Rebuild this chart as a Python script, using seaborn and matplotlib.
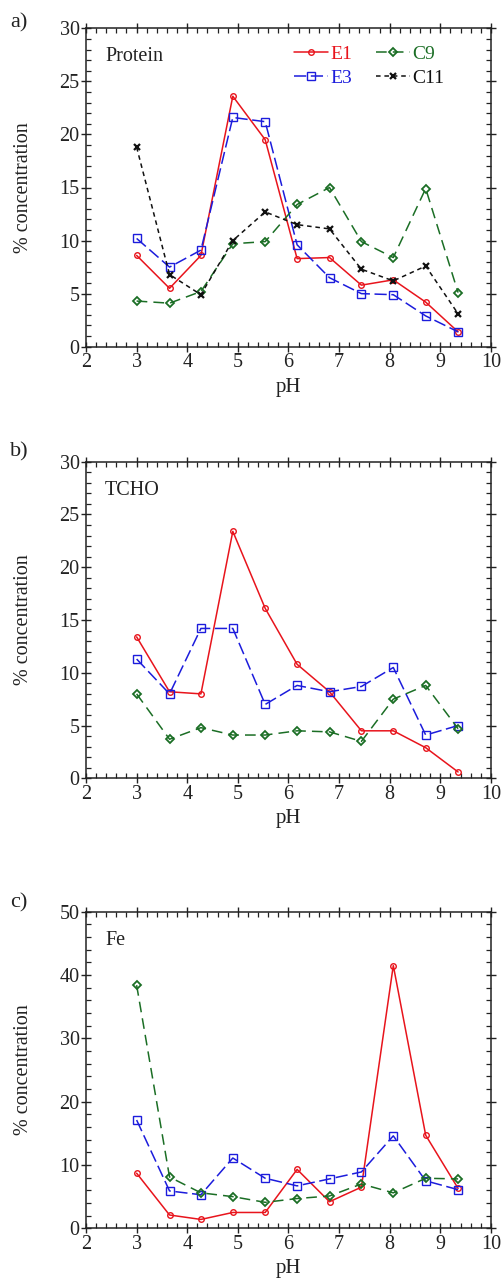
import numpy as np
import pandas as pd
import matplotlib
matplotlib.use("Agg")
import matplotlib.pyplot as plt
from matplotlib.ticker import MultipleLocator
import seaborn as sns

# pH of the collected fractions
ph = [3.0, 3.65, 4.27, 4.90, 5.54, 6.17, 6.81, 7.44, 8.07, 8.71, 9.35]

# Protein (% concentration)
protein_e1 = [8.6, 5.5, 8.6, 23.6, 19.5, 8.3, 8.4, 5.8, 6.3, 4.2, 1.4]
protein_e3 = [10.2, 7.5, 9.1, 21.6, 21.2, 9.6, 6.5, 5.0, 4.9, 2.9, 1.4]
protein_c9 = [4.3, 4.1, 5.2, 9.7, 9.9, 13.4, 15.0, 9.9, 8.4, 14.9, 5.1]
protein_c11 = [18.8, 6.8, 4.9, 10.0, 12.7, 11.5, 11.1, 7.3, 6.2, 7.6, 3.1]

# TCHO (% concentration)
tcho_e1 = [13.4, 8.2, 8.0, 23.4, 16.1, 10.8, 8.2, 4.5, 4.5, 2.9, 0.6]
tcho_e3 = [11.3, 8.0, 14.2, 14.2, 7.0, 8.8, 8.2, 8.7, 10.5, 4.1, 5.0]
tcho_c9 = [8.0, 3.7, 4.8, 4.1, 4.1, 4.5, 4.4, 3.5, 7.5, 8.8, 4.7]

# Fe (% concentration)
fe_e1 = [8.7, 2.1, 1.4, 2.5, 2.5, 9.3, 4.2, 6.5, 41.5, 14.7, 6.3]
fe_e3 = [17.1, 5.9, 5.3, 11.1, 7.9, 6.7, 7.8, 8.9, 14.6, 7.5, 6.1]
fe_c9 = [38.4, 8.1, 5.6, 5.0, 4.1, 4.7, 5.1, 7.0, 5.6, 7.9, 7.8]

series_names = ["E1", "E3", "C9", "C11"]
panel_labels = ["a)", "b)", "c)"]
panel_titles = ["Protein", "TCHO", "Fe"]

sns.set_theme(style="ticks")
plt.rcParams["font.family"] = ["Liberation Serif", "DejaVu Serif"]

RED = "#e8141c"
BLUE = "#1c1cdc"
GREEN = "#1b6e25"
BLACK = "#111111"
INK = "#222222"

styles = {
    "E1": dict(color=RED, marker="o", ms=4, linestyle="-", mew=1.0),
    "E3": dict(color=BLUE, marker="s", ms=5.5, linestyle=(0, (8, 3)), mew=1.0),
    "C9": dict(color=GREEN, marker="D", ms=3.6, linestyle=(0, (7, 4)), mew=1.3),
    "C11": dict(color=BLACK, marker="x", ms=5, linestyle=(0, (3, 2.5)), mew=1.6),
}

panels = [
    {"E1": protein_e1, "E3": protein_e3, "C9": protein_c9, "C11": protein_c11},
    {"E1": tcho_e1, "E3": tcho_e3, "C9": tcho_c9},
    {"E1": fe_e1, "E3": fe_e3, "C9": fe_c9},
]
ylims = [(0, 30), (0, 30), (0, 50)]
ymajor = [5, 5, 10]
yminor = [1, 1, 2]

W, H = 502, 1279
fig = plt.figure(figsize=(W / 100, H / 100), dpi=100)

boxes = [(28.3, 346.7), (461.7, 778.3), (911.7, 1228.3)]
label_y = [23, 452, 903]
left_px, right_px = 86, 491

for i, (top, bottom) in enumerate(boxes):
    ax = fig.add_axes([left_px / W, 1 - bottom / H, (right_px - left_px) / W, (bottom - top) / H])
    handles = {}
    for name in series_names:
        if name not in panels[i]:
            continue
        st = styles[name]
        df = pd.DataFrame({"pH": ph, "conc": panels[i][name]})
        sns.lineplot(data=df, x="pH", y="conc", ax=ax, color=st["color"],
                     marker=st["marker"], markersize=st["ms"], linestyle=st["linestyle"],
                     linewidth=1.1, markeredgecolor=st["color"], markerfacecolor="none",
                     markeredgewidth=st["mew"], label=name, legend=False)
        handles[name] = ax.get_lines()[-1]

    ax.set_xlim(2, 10)
    ax.set_ylim(*ylims[i])
    ax.xaxis.set_major_locator(MultipleLocator(1))
    ax.xaxis.set_minor_locator(MultipleLocator(0.2))
    ax.yaxis.set_major_locator(MultipleLocator(ymajor[i]))
    ax.yaxis.set_minor_locator(MultipleLocator(yminor[i]))
    ax.tick_params(which="major", direction="inout", length=7, width=1.0,
                   top=True, right=True, labelsize=14.5, pad=1, colors=INK)
    ax.tick_params(which="minor", direction="in", length=3.5, width=0.9,
                   top=True, right=True, colors=INK)
    for sp in ax.spines.values():
        sp.set_linewidth(1.1)
        sp.set_color(INK)
    ax.set_xlabel("pH", fontsize=15, labelpad=4, color=INK)
    ax.set_ylabel("% concentration", fontsize=14.5, labelpad=19, color=INK)
    ax.text(0.047, 0.91, panel_titles[i], transform=ax.transAxes,
            fontsize=14.5, va="center", ha="left", color=INK)
    fig.text(10 / W, 1 - label_y[i] / H, panel_labels[i], fontsize=16,
             va="center", ha="left", color=INK)

    if i == 0:
        hl = [handles[n] for n in series_names]
        leg = ax.legend(hl, series_names, ncol=2, frameon=False, loc="upper right",
                        bbox_to_anchor=(0.905, 0.97), borderaxespad=0, fontsize=14,
                        numpoints=1, handlelength=1.75, handletextpad=0.15,
                        columnspacing=1.2, labelspacing=0.3)
        for txt, n in zip(leg.get_texts(), series_names):
            txt.set_color(styles[n]["color"])

fig.savefig("out.png", dpi=100)
